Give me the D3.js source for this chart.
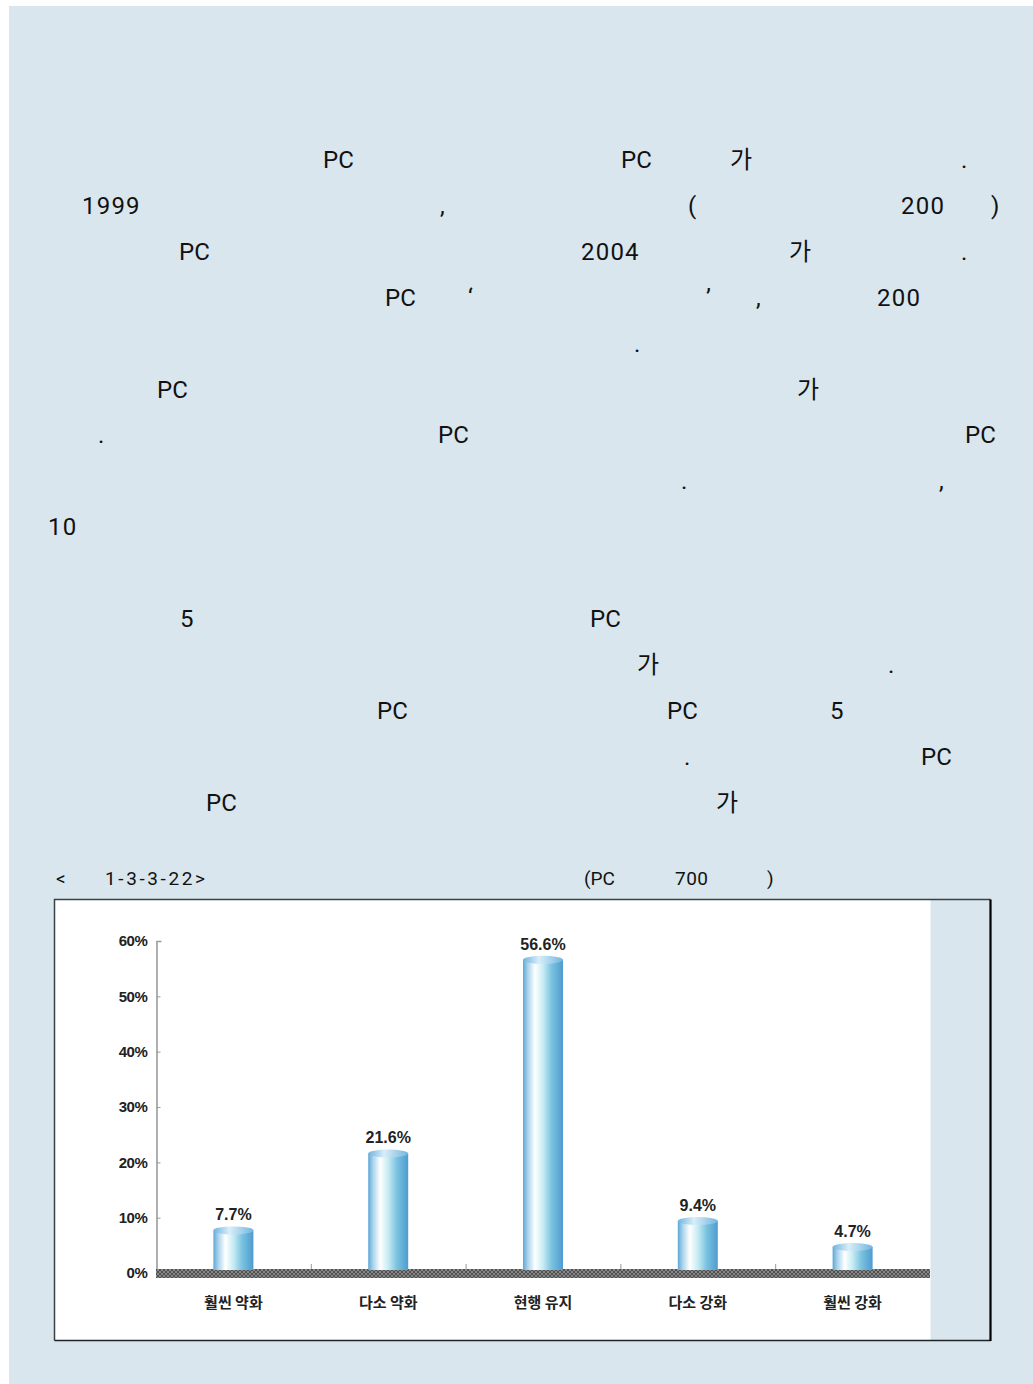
<!DOCTYPE html>
<html><head><meta charset="utf-8">
<script src="https://cdn.jsdelivr.net/npm/d3@7"></script>
<style>
html,body{margin:0;padding:0;background:#fff;}
svg{display:block;}
</style></head>
<body>
<svg id="page" width="1033" height="1384"></svg>
<script>
// ---- chart data ----
const categories = ["훨씬 약화", "다소 약화", "현행 유지", "다소 강화", "훨씬 강화"];
const values = [7.7, 21.6, 56.6, 9.4, 4.7];
const yTicks = [0, 10, 20, 30, 40, 50, 60];
const captionLeft = ["<", "1-3-3-22>"];
const captionRight = ["(PC", "700", ")"];
// ---- visible fragments of the body text, per line ----
const bodyLines = [
  [["PC",323],["PC",621],["가",730],[".",961]],
  [["1999",82],[",",440],["(",688],["200",901],[")",991]],
  [["PC",179],["2004",581],["가",789],[".",961]],
  [["PC",385],["‘",468],["’",706],[",",756],["200",877]],
  [[".",634]],
  [["PC",157],["가",797]],
  [[".",98],["PC",438],["PC",965]],
  [[".",681],[",",939]],
  [["10",48]],
  [],
  [["5",180],["PC",590]],
  [["가",637],[".",888]],
  [["PC",377],["PC",667],["5",830]],
  [[".",684],["PC",921]],
  [["PC",206],["가",716]]
];

const svg = d3.select("#page");
// page panel
svg.append("rect").attr("x",9).attr("y",6).attr("width",1024).attr("height",1378).attr("fill","#d9e6ee");

// body text
const bodyFont = "Roboto, 'Noto Sans CJK KR', sans-serif";
bodyLines.forEach((line, i) => {
  const by = 168 + i * 45.9;
  line.forEach(([t, x]) => {
    svg.append("text").attr("x", x).attr("y", by)
      .attr("font-family", t === "가" ? "'Noto Sans CJK KR', sans-serif" : bodyFont)
      .attr("font-size", 24).attr("letter-spacing", /\d/.test(t) ? 1.2 : 0)
      .attr("fill", "#111").text(t);
  });
});

// caption
const capY = 885;
const capG = svg.append("g").attr("font-family", bodyFont).attr("font-size", 19).attr("fill", "#111");
capG.append("text").attr("x", 56).attr("y", capY).text(captionLeft[0]);
capG.append("text").attr("x", 105).attr("y", capY).attr("letter-spacing", 2.6).text(captionLeft[1]);
capG.append("text").attr("x", 584).attr("y", capY).text(captionRight[0]);
capG.append("text").attr("x", 675).attr("y", capY).attr("letter-spacing", 0.5).text(captionRight[1]);
capG.append("text").attr("x", 767).attr("y", capY).text(captionRight[2]);

// chart box
svg.append("rect").attr("x",54.5).attr("y",899.5).attr("width",876).attr("height",441).attr("fill","#fff");
svg.append("path").attr("d","M54.5,1340.5V899.5H990.5").attr("fill","none").attr("stroke","#3a4248").attr("stroke-width",1.5);
svg.append("path").attr("d","M54.5,1340.5H990.5").attr("fill","none").attr("stroke","#1e2428").attr("stroke-width",1.5);
svg.append("path").attr("d","M990.5,899.5V1341").attr("fill","none").attr("stroke","#000").attr("stroke-width",2.2);

// defs
const defs = svg.append("defs");
const grad = defs.append("linearGradient").attr("id","cyl").attr("x1","0").attr("x2","1").attr("y1","0").attr("y2","0");
[[0,"#5ea7d6"],[0.12,"#a9d3ec"],[0.3,"#ffffff"],[0.5,"#c7ebf3"],[0.72,"#79c2e0"],[1,"#4f9bcf"]]
  .forEach(([o,c]) => grad.append("stop").attr("offset",o).attr("stop-color",c));
const gradTop = defs.append("linearGradient").attr("id","cylTop").attr("x1","0").attr("x2","1");
[[0,"#6fb3df"],[0.4,"#d8eef8"],[1,"#72b6de"]].forEach(([o,c]) => gradTop.append("stop").attr("offset",o).attr("stop-color",c));
const pat = defs.append("pattern").attr("id","hatch").attr("width",4).attr("height",4).attr("patternUnits","userSpaceOnUse");
pat.append("rect").attr("width",4).attr("height",4).attr("fill","#505050");
pat.append("path").attr("d","M0,0L2,2L4,0M0,4L2,2L4,4").attr("stroke","#8e8e8e").attr("stroke-width",0.9).attr("fill","none");

// scales
const x = d3.scaleBand().domain(categories).range([156, 930]).paddingInner(0).paddingOuter(0);
const y = d3.scaleLinear().domain([0, 60]).range([1273, 941]);
const barW = 40;

// y axis (ticks pointing inward)
const yAxis = d3.axisLeft(y).tickValues(yTicks).tickFormat(d => d + "%").tickSize(-4).tickSizeOuter(-5).tickPadding(9);
const yg = svg.append("g").attr("transform","translate(156.5,0)").call(yAxis);
yg.select(".domain").attr("stroke","#9c9c9c").attr("stroke-width",1.6);
yg.selectAll(".tick line").attr("stroke","#9c9c9c");
yg.selectAll(".tick text").attr("font-family","'Liberation Sans', Arial, sans-serif").attr("font-weight","bold")
  .attr("font-size",15).attr("letter-spacing",-0.4).attr("fill","#222");

// baseline band
svg.append("rect").attr("x",156).attr("y",1269).attr("width",774).attr("height",9).attr("fill","url(#hatch)");

// category separators
const seps = categories.slice(1).map(c => x(c));
svg.selectAll("line.sep").data(seps).enter().append("line").attr("class","sep")
  .attr("x1",d=>d+0.5).attr("x2",d=>d+0.5).attr("y1",1264).attr("y2",1269).attr("stroke","#999");

// cylinders
const ry = 4;
const bars = svg.selectAll("g.bar").data(values).enter().append("g").attr("class","bar");
bars.append("rect")
  .attr("x",(d,i)=>x(categories[i]) + x.bandwidth()/2 - barW/2)
  .attr("y",d=>y(d))
  .attr("width",barW)
  .attr("height",d=>y(0)-y(d)-3)
  .attr("fill","url(#cyl)");
bars.append("ellipse")
  .attr("cx",(d,i)=>x(categories[i]) + x.bandwidth()/2)
  .attr("cy",d=>y(d))
  .attr("rx",barW/2).attr("ry",ry)
  .attr("fill","url(#cylTop)");
bars.append("text")
  .attr("x",(d,i)=>x(categories[i]) + x.bandwidth()/2)
  .attr("y",d=>y(d) - 10)
  .attr("text-anchor","middle")
  .attr("font-family","'Liberation Sans', Arial, sans-serif").attr("font-weight","bold")
  .attr("font-size",16).attr("letter-spacing",0).attr("fill","#222")
  .text(d=>d.toFixed(1)+"%");

// category labels
svg.selectAll("text.cat").data(categories).enter().append("text").attr("class","cat")
  .attr("x",d=>x(d)+x.bandwidth()/2).attr("y",1308)
  .attr("text-anchor","middle")
  .attr("font-family","'Noto Sans CJK KR', sans-serif").attr("font-weight","bold")
  .attr("font-size",15).attr("letter-spacing",0).attr("fill","#222")
  .text(d=>d);
</script>
</body></html>
